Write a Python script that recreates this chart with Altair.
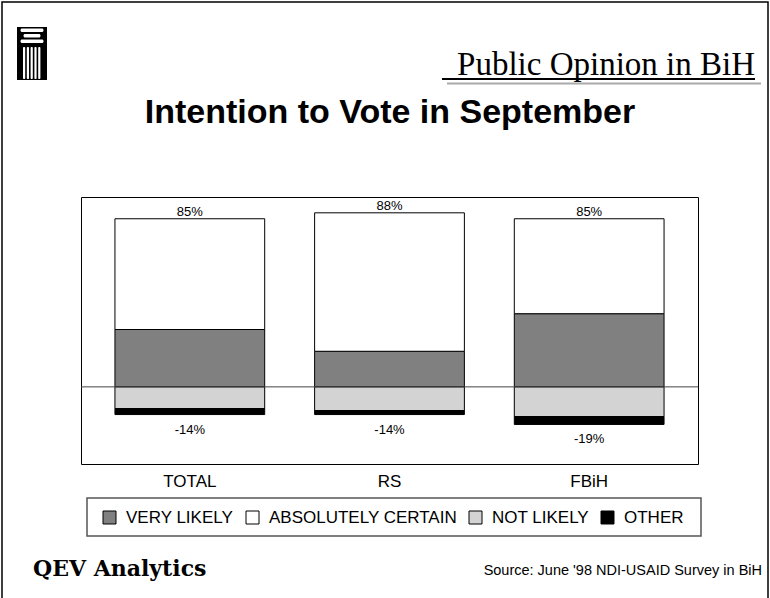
import altair as alt
import pandas as pd

# ---------------- data ----------------
categories = ["TOTAL", "RS", "FBiH"]
series_names = ["VERY LIKELY", "ABSOLUTELY CERTAIN", "NOT LIKELY", "OTHER"]
series_colors = ["#808080", "#ffffff", "#d3d3d3", "#000000"]
very_likely = [29, 18, 37]
absolutely_certain = [56, 70, 48]
not_likely = [11, 12, 15]
other = [3, 2, 4]

title_text = "Intention to Vote in September"
header_text = "Public Opinion in BiH"
footer_left = "QEV Analytics"
footer_right = "Source: June '98 NDI-USAID Survey in BiH"

rows = []
for i, c in enumerate(categories):
    rows.append({"cat": c, "series": series_names[0], "value": very_likely[i], "ord": 1})
    rows.append({"cat": c, "series": series_names[1], "value": absolutely_certain[i], "ord": 2})
    rows.append({"cat": c, "series": series_names[2], "value": -not_likely[i], "ord": 3})
    rows.append({"cat": c, "series": series_names[3], "value": -other[i], "ord": 4})
df = pd.DataFrame(rows)

pos_tot = [very_likely[i] + absolutely_certain[i] for i in range(len(categories))]
neg_tot = [-(not_likely[i] + other[i]) for i in range(len(categories))]
lab = pd.DataFrame({
    "cat": categories,
    "pos": pos_tot,
    "neg": neg_tot,
    "pos_label": [f"{v}%" for v in pos_tot],
    "neg_label": [f"{v}%" for v in neg_tot],
})
one = pd.DataFrame({"k": [0]})

SANS = "Liberation Sans"
SERIF = "Liberation Serif"

xenc = alt.X(
    "cat:N", sort=categories, title=None,
    scale=alt.Scale(paddingInner=0.25, paddingOuter=0.17),
    axis=alt.Axis(domain=False, ticks=False, labelAngle=0, labelFontSize=17,
                  labelFont=SANS, labelColor="black", labelPadding=9, grid=False),
)
yscale = alt.Scale(domain=[-39, 96], nice=False, zero=False)

bars = alt.Chart(df).mark_bar(stroke="black", strokeWidth=1, opacity=1).encode(
    x=xenc,
    y=alt.Y("value:Q", stack="zero", scale=yscale, axis=None),
    color=alt.Color(
        "series:N",
        scale=alt.Scale(domain=series_names, range=series_colors),
        legend=alt.Legend(
            orient="none", legendX=20, legendY=312, direction="horizontal",
            title=None, symbolType="square", symbolSize=169,
            symbolStrokeColor="black", symbolStrokeWidth=1, symbolOpacity=1,
            labelFontSize=17, labelFont=SANS, labelColor="black", labelLimit=0,
            labelOffset=8, columnPadding=10, padding=0,
        ),
    ),
    order=alt.Order("ord:Q"),
)

zero_line = alt.Chart(one).mark_rule(color="#444", strokeWidth=1).encode(
    y=alt.Y("k:Q", scale=yscale, axis=None)
)

pos_text = alt.Chart(lab).mark_text(
    font=SANS, fontSize=13, color="black", baseline="alphabetic", dy=-3
).encode(x=xenc, y=alt.Y("pos:Q", scale=yscale, axis=None), text="pos_label:N")

neg_text = alt.Chart(lab).mark_text(
    font=SANS, fontSize=13, color="black", baseline="alphabetic", dy=19
).encode(x=xenc, y=alt.Y("neg:Q", scale=yscale, axis=None), text="neg_label:N")

# ------------- decorations (positions relative to plot origin 81,197) -------------
OX, OY = 81, 197


def rect(x1, y1, x2, y2, fill, stroke=None, sw=1, r=0):
    kw = {"fill": fill}
    if stroke:
        kw.update(stroke=stroke, strokeWidth=sw)
    else:
        kw.update(strokeWidth=0)
    if r:
        kw.update(cornerRadius=r)
    return alt.Chart(one).mark_rect(**kw).encode(
        x=alt.value(x1 - OX), x2=alt.value(x2 - OX),
        y=alt.value(y1 - OY), y2=alt.value(y2 - OY))


def hline(x1, x2, y, color, sw):
    return alt.Chart(one).mark_rule(color=color, strokeWidth=sw).encode(
        x=alt.value(x1 - OX), x2=alt.value(x2 - OX), y=alt.value(y - OY))


def label(x, y, txt, **kw):
    return alt.Chart(one).mark_text(**kw).encode(
        x=alt.value(x - OX), y=alt.value(y - OY), text=alt.value(txt))


logo = [
    rect(17, 27, 47, 80, "black"),
    rect(20.5, 28.5, 43.5, 32, "white", r=1.5),
    rect(23.5, 34, 40.5, 37.5, "white", r=1.5),
    rect(20.5, 39.5, 43.5, 43, "white", r=1.5),
]
for cx in [23, 26.8, 30.6, 34.4, 38.2]:
    logo.append(rect(cx, 47, cx + 2.2, 79, "white", r=1))

deco = [
    rect(2, 2, 768, 640, "transparent", stroke="black", sw=1.5),
    *logo,
    # header
    label(755, 75, header_text, font=SERIF, fontSize=33, align="right",
          baseline="alphabetic", color="black"),
    hline(442, 755, 79, "black", 2),
    hline(447, 761, 83.5, "#aaaaaa", 2),
    # title
    label(390, 123, title_text, font=SANS, fontSize=34, fontWeight="bold",
          align="center", baseline="alphabetic", color="black"),
    # legend box
    rect(87, 498, 701, 536, "transparent", stroke="#555555", sw=1.5),
    # footer
    label(33, 576, footer_left, font="DejaVu Serif", fontSize=22, fontWeight="bold",
          align="left", baseline="alphabetic", color="black"),
    label(762, 575, footer_right, font=SANS, fontSize=14.5, align="right",
          baseline="alphabetic", color="black"),
]

chart = alt.layer(bars, zero_line, pos_text, neg_text, *deco).properties(
    width=617, height=267,
    autosize=alt.AutoSizeParams(type="none"),
    padding={"left": OX, "top": OY, "right": 770 - 698, "bottom": 598 - 464},
    background="white",
).configure_view(stroke="black", strokeWidth=1)

chart.save("out.html", embed_options={"renderer": "svg", "actions": False})
